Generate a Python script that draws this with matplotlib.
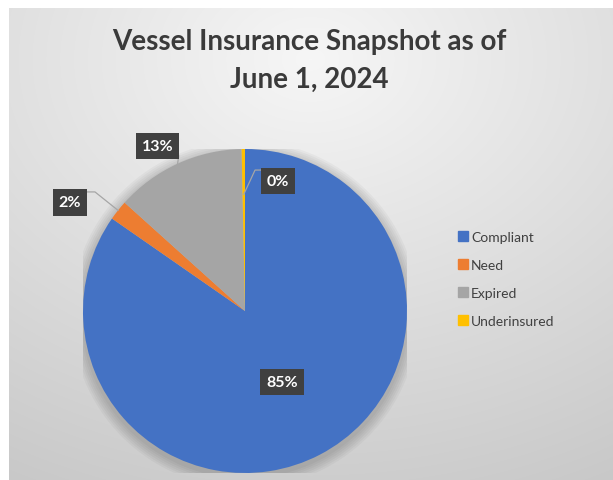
import numpy as np
import matplotlib.pyplot as plt
from matplotlib.lines import Line2D

# data (counts, labels shown as rounded percentages)
categories = ["Compliant", "Need", "Expired", "Underinsured"]
counts = [254, 6, 39, 1]
colors = ["#4472C4", "#ED7D31", "#A5A5A5", "#FFC000"]
title = "Vessel Insurance Snapshot as of\nJune 1, 2024"

# label placement (axes units, pie radius = 1), leader start / elbow / end radius
label_pos = [(0.23, -0.44), (-1.08, 0.67), (-0.54, 1.02), (0.205, 0.80)]
leader_start = [None, (-0.975, 0.735), (-0.41, 0.96), (0.111, 0.870)]
label_elbow = [None, (-0.926, 0.735), (-0.41, 0.95), (0.062, 0.870)]
leader_r = [None, 1.0, 1.0, 0.72]

W, H = 613, 481
fig = plt.figure(figsize=(W / 100, H / 100), dpi=100)
fig.patch.set_facecolor("white")

# gradient background of the chart area
bg = fig.add_axes([9 / W, 0, (W - 9) / W, (H - 9) / H])
yy, xx = np.mgrid[9:H, 9:W]
d = np.sqrt(((xx - 310) / 600.0) ** 2 + ((yy - 60) / 450.0) ** 2)
val = np.clip(0.965 - 0.17 * d, 0, 1)
bg.imshow(np.dstack([val, val, val]), aspect="auto", extent=[0, 1, 0, 1], interpolation="bilinear")
bg.set_axis_off()

# pie
cx, cy, r = 245, 312, 162
ax = fig.add_axes([(cx - r) / W, (H - cy - r) / H, 2 * r / W, 2 * r / H])
ax.set_aspect("equal")

# soft shadow
for k in range(6):
    ax.add_patch(plt.Circle((0.0, -0.02), 1.0 + 0.012 * (k + 1), color="black",
                            alpha=0.03, lw=0, zorder=0))

wedges, _ = ax.pie(counts, colors=colors, startangle=90, counterclock=False,
                   radius=1.0, wedgeprops=dict(linewidth=0))
ax.set_xlim(-1, 1)
ax.set_ylim(-1, 1)
ax.axis("off")

total = sum(counts)
for i, w in enumerate(wedges):
    pct = "%d%%" % round(100.0 * counts[i] / total)
    lx, ly = label_pos[i]
    if label_elbow[i] is not None:
        mid = np.deg2rad((w.theta1 + w.theta2) / 2.0)
        ex, ey = leader_r[i] * np.cos(mid), leader_r[i] * np.sin(mid)
        sx, sy = leader_start[i]
        bx, by = label_elbow[i]
        ax.plot([sx, bx, ex], [sy, by, ey], color="#a6a6a6", lw=0.9, zorder=3, clip_on=False)
    ax.text(lx, ly, pct, color="white", fontsize=11.5, fontweight="bold", family="Lato",
            ha="center", va="center", zorder=5,
            bbox=dict(boxstyle="square,pad=0.38", fc="#404040", ec="none"))

fig.text((W + 9) / 2 / W - 0.003, 1 - 88 / H, title, ha="center", va="baseline",
         fontsize=20, fontweight="bold", family="Lato", color="#3a3a3a",
         linespacing=1.58)

handles = [Line2D([], [], marker="s", ls="none", markersize=6.5, color=c) for c in colors]
fig.legend(handles, categories, loc="upper left", bbox_to_anchor=(446 / W, 1 - 219 / H),
           frameon=False, prop=dict(family="Lato", size=10), labelcolor="#404040",
           handlelength=0.6, handletextpad=0.3, labelspacing=1.16)

fig.savefig("out.png", dpi=100)
